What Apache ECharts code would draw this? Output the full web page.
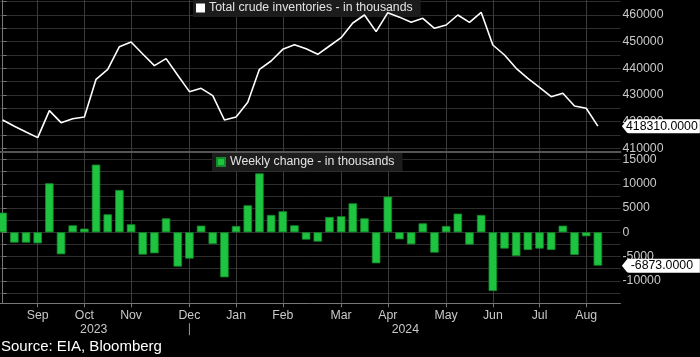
<!DOCTYPE html>
<html>
<head>
<meta charset="utf-8">
<script src="https://cdn.jsdelivr.net/npm/echarts@6/dist/echarts.min.js"></script>
<style>
html,body{margin:0;padding:0;background:#000;}
#c{width:700px;height:357px;}
</style>
</head>
<body>
<div id="c"></div>
<script>
// ---- data (weekly, Aug 2023 - Aug 2024) ----
const inventories = [420630, 418300, 416130, 414000, 424110, 419610, 421110, 421750, 435890, 439640,
  448110, 449875, 445375, 441000, 443625, 437375, 431250, 432500, 429750, 420625,
  421750, 427250, 439625, 442750, 447125, 448875, 447375, 445250, 448375, 451500,
  457000, 460000, 453750, 460875, 459200, 457250, 458750, 455000, 456250, 460000,
  457250, 461000, 448750, 445000, 440000, 436250, 432875, 429375, 430625, 425875, 425000, 418310];
const weeklyChange = [4050, -2130, -2130, -2270, 10100, -4530, 1440, 760, 13940, 3710,
  8720, 1650, -4600, -4330, 2880, -7070, -5420, 1370, -2400, -9270,
  1300, 5560, 12150, 3570, 4330, 1440, -1510, -1920, 3160, 3300,
  5970, 2880, -6390, 7350, -1440, -2470, 1850, -4190, 1300, 3850,
  -2540, 3570, -12090, -3360, -4880, -3640, -3360, -3640, 1370, -4670, -820, -6873];
// month ticks: week index of first week in each month
const monthTickIdx = [3, 7, 11, 16, 20, 24, 29, 33, 38, 42, 46, 50];
const monthLabels = ['Sep', 'Oct', 'Nov', 'Dec', 'Jan', 'Feb', 'Mar', 'Apr', 'May', 'Jun', 'Jul', 'Aug'];
const yearPos = [7.8, 16, 34.5];
const yearLabels = ['2023', '|', '2024'];
const invTicks = [410000, 415000, 420000, 425000, 430000, 435000, 440000, 445000, 450000, 455000, 460000, 465000];
const invLabels = [410000, 420000, 430000, 440000, 450000, 460000];
const chgTicks = [-12500, -10000, -7500, -5000, -2500, 0, 2500, 5000, 7500, 10000, 12500, 15000];
const chgLabels = [-10000, -5000, 0, 5000, 10000, 15000];

const FONT = '"Liberation Sans", Arial, Helvetica, sans-serif';
const invData = inventories.map((v, i) => [i, v]);
const chgData = weeklyChange.map((v, i) => [i, v]);
const lastI = inventories.length - 1;

const badgePath = 'path://M0,7 L4,2 Q5,0 7,0 L78,0 L78,14 L7,14 Q5,14 4,12 Z';
const badge = (val, offX) => ({
  symbol: badgePath,
  symbolSize: [78, 14],
  symbolKeepAspect: false,
  symbolOffset: [offX, 0],
  itemStyle: { color: '#fff' },
  label: {
    show: true, position: 'inside', color: '#000', fontFamily: FONT, fontSize: 12.3,
    offset: [1, 0],
    formatter: () => val.toFixed(4)
  },
  data: []
});

const xBase = {
  type: 'value', min: -0.231, max: 52.94,
  axisTick: { show: true, customValues: monthTickIdx, length: 4, lineStyle: { color: '#777' } },
  splitLine: { show: true, lineStyle: { color: '#3b3b3b', width: 1 } }
};

const chart = echarts.init(document.getElementById('c'), null, { renderer: 'canvas' });
const topBadge = badge(inventories[lastI], 63);
topBadge.data = [{ coord: [lastI, inventories[lastI]] }];
const botBadge = badge(weeklyChange[lastI], 63);
botBadge.data = [{ coord: [lastI, weeklyChange[lastI]] }];

chart.setOption({
  backgroundColor: '#000',
  animation: false,
  title: {
    text: 'Source: EIA, Bloomberg', left: 1, top: 339,
    textStyle: { color: '#fff', fontSize: 15, fontWeight: 'normal', fontFamily: FONT }, padding: 0
  },
  legend: [
    {
      data: [{ name: 'Total crude inventories - in thousands', icon: 'rect' }],
      left: 193, top: -2, z: 1,
      backgroundColor: '#1c1c1c', padding: [4, 8, 3, 3],
      itemWidth: 9, itemHeight: 9, itemGap: 4,
      textStyle: { color: '#e2e2e2', fontSize: 12.3, fontFamily: FONT, padding: [0, 0, 0, -1] }
    },
    {
      data: [{ name: 'Weekly change - in thousands', icon: 'rect' }],
      left: 212, top: 153, z: 1,
      backgroundColor: '#1c1c1c', padding: [3, 8, 3, 4],
      itemWidth: 8, itemHeight: 8,
      textStyle: { color: '#e2e2e2', fontSize: 12.3, fontFamily: FONT }
    }
  ],
  grid: [
    { left: 0, right: 79.5, top: 0, height: 151.5 },
    { left: 0, right: 79.5, top: 153, bottom: 53.7 }
  ],
  xAxis: [
    Object.assign({}, xBase, {
      gridIndex: 0, position: 'bottom',
      axisLine: { show: true, onZero: false, lineStyle: { color: '#555', width: 2 } },
      axisTick: { show: false, customValues: monthTickIdx },
      axisLabel: { show: false, customValues: monthTickIdx }
    }),
    Object.assign({}, xBase, {
      gridIndex: 1, position: 'bottom',
      axisLine: { show: true, onZero: false, lineStyle: { color: '#777', width: 1 } },
      axisLabel: {
        show: true, customValues: monthTickIdx, margin: 6,
        color: '#c8c8c8', fontSize: 12.3, fontFamily: FONT,
        formatter: v => monthLabels[monthTickIdx.indexOf(Math.round(v))] || ''
      }
    }),
    {
      type: 'value', gridIndex: 1, position: 'bottom', min: -0.231, max: 52.94,
      axisLine: { show: false }, axisTick: { show: false }, splitLine: { show: false },
      axisLabel: {
        show: true, customValues: yearPos, margin: 20,
        color: '#c8c8c8', fontSize: 12.3, fontFamily: FONT,
        formatter: v => {
          const s = yearLabels[yearPos.indexOf(v)];
          return s === '|' ? '{sep|}' : s;
        },
        rich: { sep: { width: 1, height: 12, backgroundColor: '#9a9a9a' } }
      }
    }
  ],
  yAxis: [
    {
      type: 'value', gridIndex: 0, position: 'right', min: 408800, max: 465625,
      axisLine: { show: true, lineStyle: { color: '#777' } },
      axisTick: { show: true, customValues: invTicks, length: 4, lineStyle: { color: '#777' } },
      axisLabel: { show: true, customValues: invLabels, margin: 2, color: '#c8c8c8', fontSize: 12.3, fontFamily: FONT,
        formatter: v => String(v) },
      splitLine: { show: true, lineStyle: { color: '#2e2e2e' } }
    },
    {
      type: 'value', gridIndex: 1, position: 'right', min: -14626, max: 16336,
      axisLine: { show: true, lineStyle: { color: '#777' } },
      axisTick: { show: true, customValues: chgTicks, length: 4, lineStyle: { color: '#777' } },
      axisLabel: { show: true, customValues: chgLabels, margin: 2, color: '#c8c8c8', fontSize: 12.3, fontFamily: FONT,
        formatter: v => String(v) },
      splitLine: { show: true, lineStyle: { color: '#2e2e2e' } }
    }
  ],
  series: [
    {
      name: 'Total crude inventories - in thousands', type: 'line',
      xAxisIndex: 0, yAxisIndex: 0, data: invData,
      showSymbol: false, symbol: 'none', clip: false, z: 3,
      itemStyle: { color: '#ffffff' },
      lineStyle: { color: '#ffffff', width: 1.6 },
      markPoint: topBadge
    },
    {
      name: 'Weekly change - in thousands', type: 'bar',
      xAxisIndex: 1, yAxisIndex: 1, data: chgData,
      barWidth: 8.5, clip: false, z: 3,
      itemStyle: { color: '#1ec43f', borderColor: '#148a2b', borderWidth: 0.8 },
      markPoint: botBadge
    }
  ]
});
</script>
</body>
</html>
